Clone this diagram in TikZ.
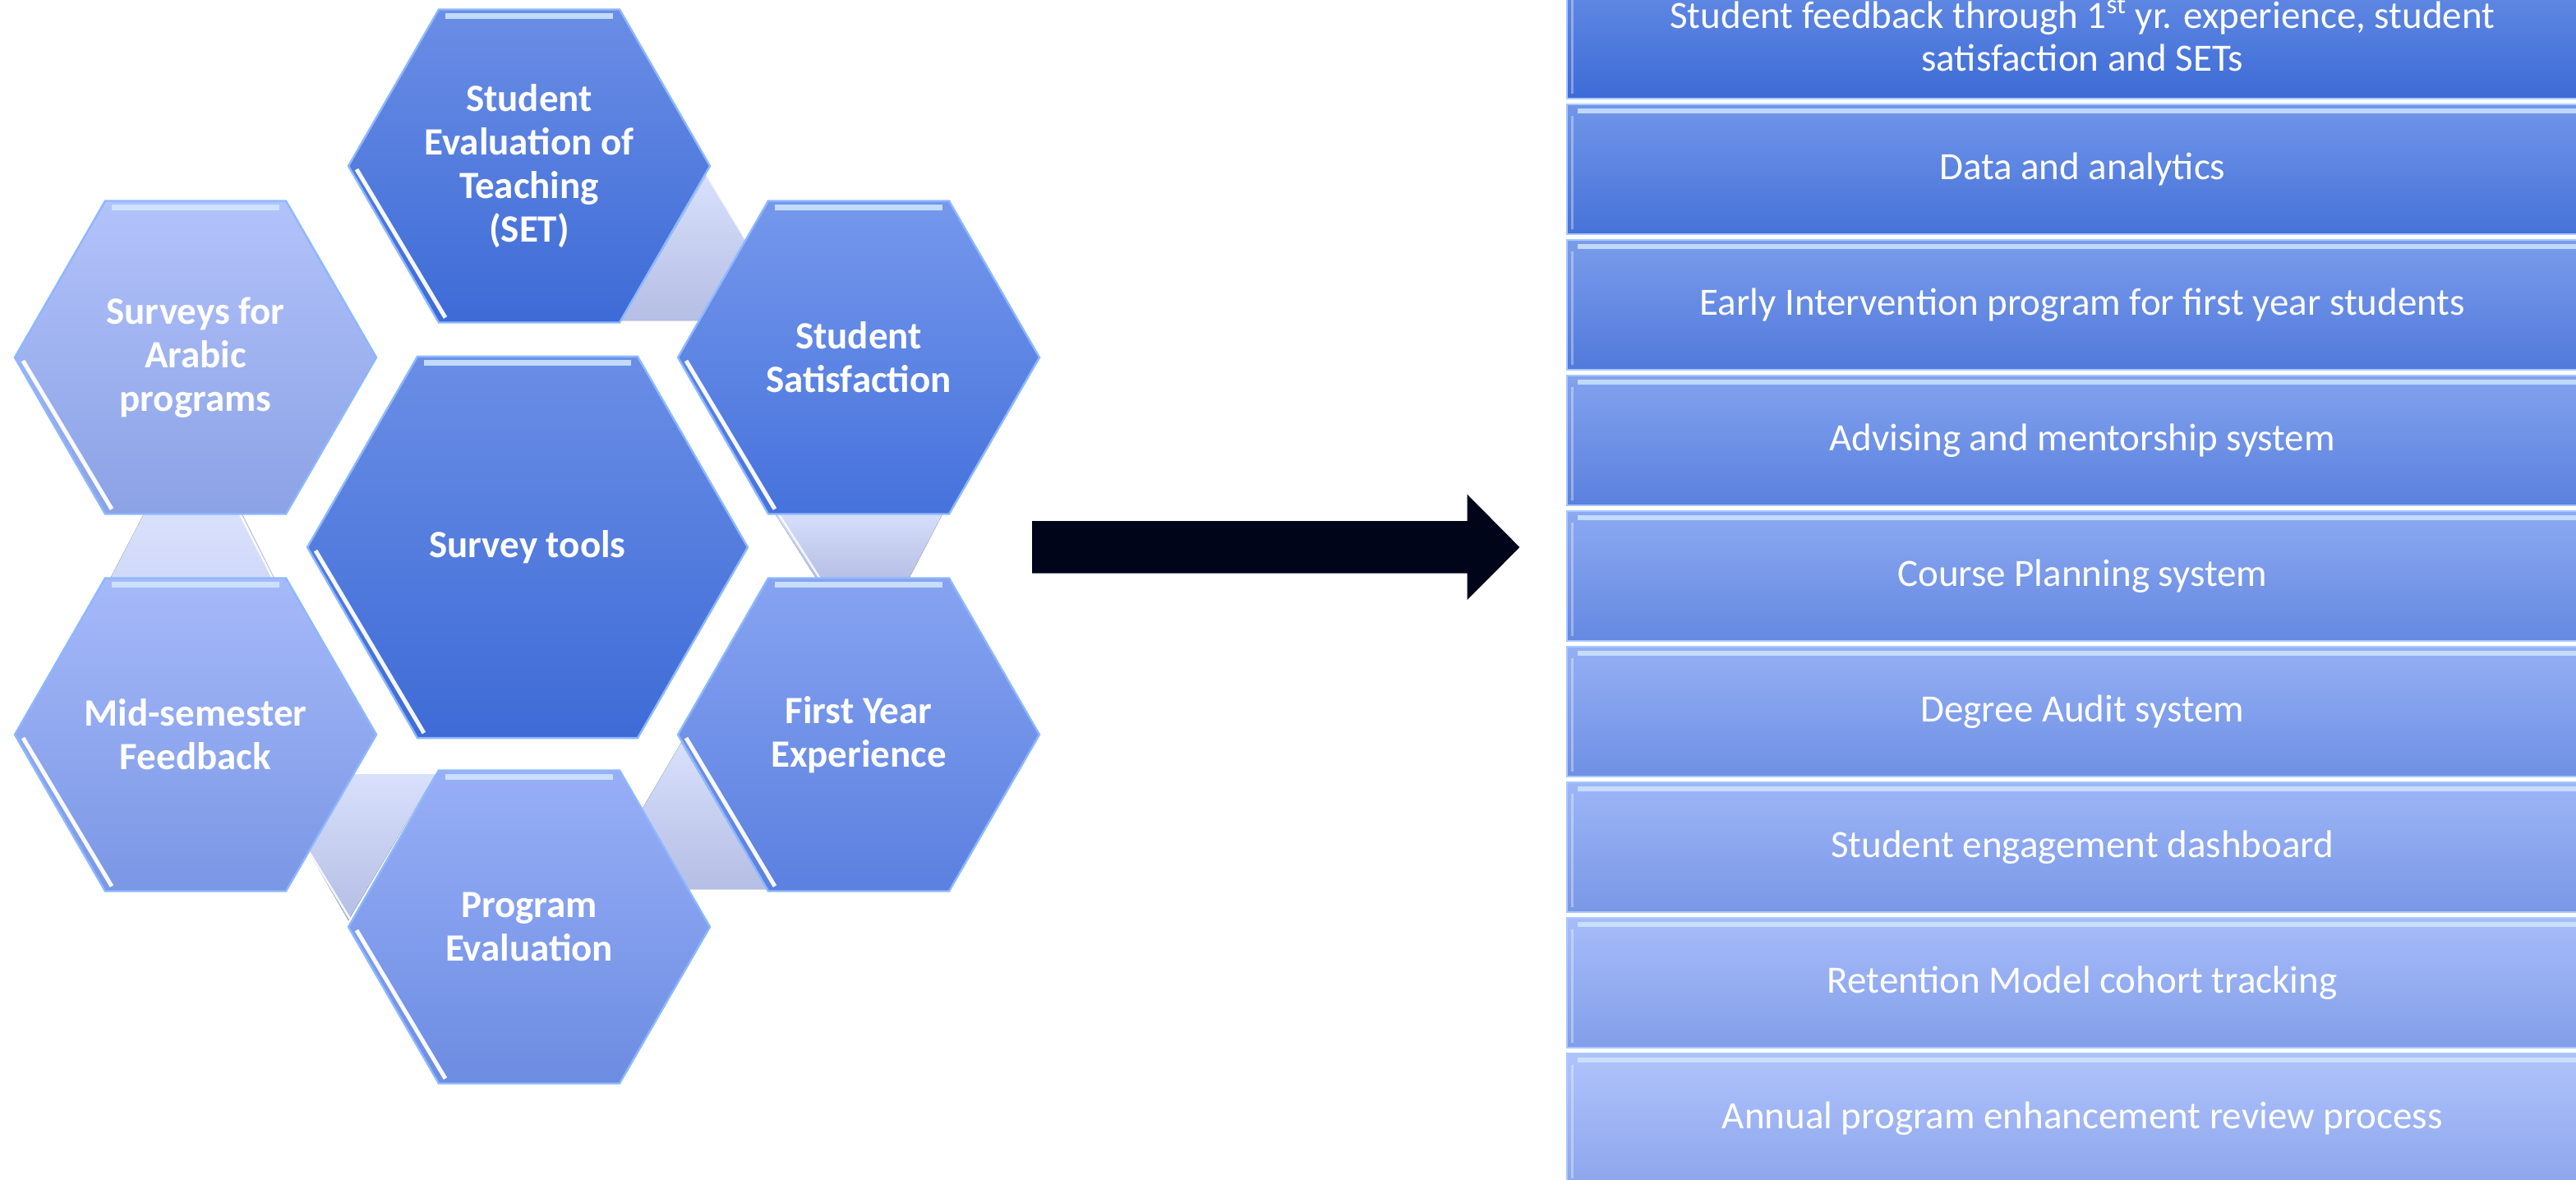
\documentclass[tikz,border=0pt]{standalone}
\usepackage{fontspec}
\setmainfont{Carlito}
\definecolor{cTop}{HTML}{D8E0FC}
\definecolor{cBot}{HTML}{B5BEE4}
\definecolor{cFlatT}{HTML}{DAE1FC}
\definecolor{cFlatB}{HTML}{D0D8FA}
\definecolor{hexhl}{HTML}{D2E8FF}
\definecolor{hexline}{HTML}{8CB8FF}
\definecolor{arrowc}{HTML}{01051A}
\definecolor{boxTopA}{HTML}{688FE6}
\definecolor{boxTopB}{HTML}{B0C3FC}
\definecolor{boxBotA}{HTML}{3D6BD6}
\definecolor{boxBotB}{HTML}{8DA6EC}
\definecolor{boxline}{HTML}{A8C8FF}
\tikzset{
  hextext/.style={text=white, font=\fontsize{23.5}{26.5}\selectfont\bfseries, align=center, inner sep=0pt},
  boxtext/.style={text=white, font=\fontsize{23.5}{26}\selectfont, align=center, inner sep=0pt},
  connfill/.style={top color=cTop, bottom color=cBot},
  connflat/.style={top color=cFlatT, bottom color=cFlatB},
  connedge/.style={white, line width=1.2pt, opacity=0.85},
  hexedge/.style={hexline, line width=1.2pt},
  hexstrip/.style={hexhl, line width=3.5pt, opacity=0.85},
  hexlow/.style={white, line width=2.5pt, opacity=0.95},
  boxedge/.style={boxline, line width=1pt},
  boxstrip/.style={hexhl, line width=3pt, opacity=0.8},
}
% name, cx, cy, R, top colour, bottom colour, text
\newcommand{\hexshape}[7]{%
  \fill[top color=#5, bottom color=#6] ({#2-#4},#3) -- ({#2-#4/2},{#3-0.866*#4}) -- ({#2+#4/2},{#3-0.866*#4}) -- ({#2+#4},#3) -- ({#2+#4/2},{#3+0.866*#4}) -- ({#2-#4/2},{#3+0.866*#4}) -- cycle;
  \draw[hexedge] ({#2-#4},#3) -- ({#2-#4/2},{#3-0.866*#4}) -- ({#2+#4/2},{#3-0.866*#4}) -- ({#2+#4},#3) -- ({#2+#4/2},{#3+0.866*#4}) -- ({#2-#4/2},{#3+0.866*#4}) -- cycle;
  \draw[hexstrip] ({#2-#4/2+4},{#3-0.866*#4+4}) -- ({#2+#4/2-4},{#3-0.866*#4+4});
  \draw[hexlow] ({#2-#4+5},{#3+2}) -- ({#2-#4/2+4},{#3+0.866*#4-3});
  \node[hextext] (#1) at (#2,#3) {#7};
}
% name, top y, mix percent, text
\newcommand{\listbox}[4]{%
  \colorlet{bxT}{boxTopB!#3!boxTopA}%
  \colorlet{bxB}{boxBotB!#3!boxBotA}%
  \fill[top color=bxT, bottom color=bxB] (953.7,#2) rectangle (1580.5,{#2+79.2});
  \draw[boxedge] (953.7,#2) rectangle (1580.5,{#2+79.2});
  \draw[boxstrip] (960,{#2+4}) -- (1575,{#2+4});
  \draw[white, line width=1.5pt, opacity=0.35] (956.5,{#2+7}) -- (956.5,{#2+76});
  \node[boxtext] (#1) at (1267.1,{#2+39.6}) {#4};
}
\begin{document}
\begin{tikzpicture}[x=1pt,y=-1pt]
\useasboundingbox (0,0) rectangle (1567.5,717.5);
\clip (0,0) rectangle (1567.5,717.5);
\fill[white] (0,0) rectangle (1567.5,717.5);

% connector shapes behind the hexagons
\fill[connfill] (430,106.5) -- (483,195) -- (378,195) -- cycle;
\draw[connedge] (430,106.5) -- (455,148);
\fill[connfill] (470,310) -- (575,310) -- (552,354) -- (498,354) -- cycle;
\draw[connedge] (474,313) -- (499,352);
\fill[connfill] (414.5,452) -- (362,541) -- (466.5,541) -- cycle;
\fill[connfill] (212,560) -- (160.5,471) -- (265,471) -- cycle;
\draw[connedge] (180,505) -- (213,559);
\fill[connflat] (89,310) -- (146,310) -- (168,354) -- (66,354) -- cycle;
\draw[connedge] (146,313) -- (166,352);

% hexagons
\hexshape{set}{322}{101}{110}{{rgb,255:red,107;green,142;blue,230}}{{rgb,255:red,61;green,107;blue,214}}{Student\\Evaluation of\\Teaching\\(SET)}
\hexshape{arabic}{119}{217.5}{110}{{rgb,255:red,178;green,194;blue,251}}{{rgb,255:red,139;green,162;blue,229}}{Surveys for\\Arabic\\programs}
\hexshape{satis}{522.5}{217.5}{110}{{rgb,255:red,117;green,152;blue,236}}{{rgb,255:red,70;green,114;blue,220}}{Student\\Satisfaction}
\hexshape{tools}{321}{333}{134}{{rgb,255:red,106;green,142;blue,230}}{{rgb,255:red,62;green,107;blue,214}}{Survey tools}
\hexshape{mid}{119}{447}{110}{{rgb,255:red,166;green,185;blue,249}}{{rgb,255:red,122;green,151;blue,229}}{Mid-semester\\Feedback}
\hexshape{fye}{522.5}{447}{110}{{rgb,255:red,135;green,163;blue,241}}{{rgb,255:red,91;green,128;blue,224}}{First Year\\Experience}
\hexshape{prog}{322}{564}{110}{{rgb,255:red,152;green,175;blue,247}}{{rgb,255:red,108;green,140;blue,226}}{Program\\Evaluation}

% block arrow
\coordinate (arrS) at (628,333);
\coordinate (arrT) at (924.7,333);
\fill[arrowc] (628,317) -- (892.8,317) -- (892.8,300.8) -- (arrT) -- (892.8,365) -- (892.8,348.8) -- (628,348.8) -- cycle;

% list boxes
\listbox{b1}{-19.2}{0}{Student feedback through 1\textsuperscript{st} yr. experience, student\\satisfaction and SETs}
\listbox{b2}{63.3}{12}{Data and analytics}
\listbox{b3}{145.8}{25}{Early Intervention program for first year students}
\listbox{b4}{228.3}{37}{Advising and mentorship system}
\listbox{b5}{310.8}{50}{Course Planning system}
\listbox{b6}{393.3}{62}{Degree Audit system}
\listbox{b7}{475.8}{75}{Student engagement dashboard}
\listbox{b8}{558.3}{87}{Retention Model cohort tracking}
\listbox{b9}{640.8}{100}{Annual program enhancement review process}
\end{tikzpicture}
\end{document}
